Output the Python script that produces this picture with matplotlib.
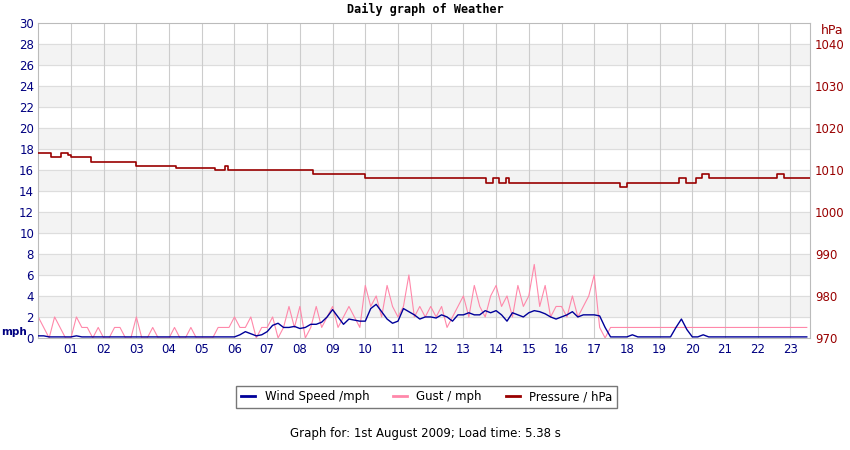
import numpy as np
import matplotlib.pyplot as plt
from matplotlib.lines import Line2D

# 10-minute samples per hour
gust = [
    [2, 1, 0, 2, 1, 0], [0, 2, 1, 1, 0, 1], [0, 0, 1, 1, 0, 0], [2, 0, 0, 1, 0, 0],
    [0, 1, 0, 0, 1, 0], [0, 0, 0, 1, 1, 1], [2, 1, 1, 2, 0, 1], [1, 2, 0, 1, 3, 1],
    [3, 0, 1, 3, 1, 2], [3, 1, 2, 3, 2, 1], [5, 3, 4, 2, 5, 3], [2, 3, 6, 2, 3, 2],
    [3, 2, 3, 1, 2, 3], [4, 2, 5, 3, 2, 4], [5, 3, 4, 2, 5, 3], [4, 7, 3, 5, 2, 3],
    [3, 2, 4, 2, 3, 4], [6, 1, 0, 1, 1, 1], [1, 1, 1, 1, 1, 1], [1, 1, 1, 1, 1, 1],
    [1, 1, 1, 1, 1, 1], [1, 1, 1, 1, 1, 1], [1, 1, 1, 1, 1, 1], [1, 1, 1, 1],
]
wind = [
    [0.2, 0.2, 0.1, 0.1, 0.1, 0.1], [0.1, 0.2, 0.1, 0.1, 0.1, 0.1], [0.1] * 6, [0.1] * 6,
    [0.1] * 6, [0.1] * 6, [0.1, 0.3, 0.6, 0.4, 0.2, 0.3], [0.6, 1.2, 1.4, 1.0, 1.0, 1.1],
    [0.9, 1.0, 1.3, 1.3, 1.5, 2.0], [2.7, 2.0, 1.3, 1.8, 1.7, 1.6], [1.6, 2.8, 3.2, 2.5, 1.8, 1.4],
    [1.6, 2.8, 2.5, 2.2, 1.8, 2.0], [2.0, 1.9, 2.2, 2.0, 1.6, 2.2], [2.2, 2.4, 2.2, 2.2, 2.6, 2.4],
    [2.6, 2.2, 1.6, 2.4, 2.2, 2.0], [2.4, 2.6, 2.5, 2.3, 2.0, 1.8], [2.0, 2.2, 2.5, 2.0, 2.2, 2.2],
    [2.2, 2.1, 1.0, 0.1, 0.1, 0.1], [0.1, 0.3, 0.1, 0.1, 0.1, 0.1], [0.1, 0.1, 0.1, 1.0, 1.8, 0.8],
    [0.1, 0.1, 0.3, 0.1, 0.1, 0.1], [0.1] * 6, [0.1] * 6, [0.1] * 4,
]
# pressure steps: (hour, hPa)
p_hours = [0, 0.4, 0.7, 0.9, 1.0, 1.6, 3.0, 4.2, 5.4, 5.7, 5.8, 8.4, 10.0, 12.9, 13.7, 13.9,
           14.1, 14.3, 14.4, 17.5, 17.8, 18.0, 19.4, 19.6, 19.8, 20.1, 20.3, 20.5, 22.3, 22.6, 22.8, 23.6]
p_vals = [1014, 1013, 1014, 1013.5, 1013, 1012, 1011, 1010.5, 1010, 1011, 1010, 1009, 1008, 1008, 1007, 1008,
          1007, 1008, 1007, 1007, 1006, 1007, 1007, 1008, 1007, 1008, 1009, 1008, 1008, 1009, 1008, 1008]

g = np.concatenate(gust)
w = np.concatenate(wind)
t = np.arange(len(g)) / 6.0

fig = plt.figure(figsize=(8.5, 4.5), dpi=100)
ax = fig.add_axes([0.045, 0.249, 0.908, 0.70])
for y0 in range(2, 30, 4):
    ax.axhspan(y0, y0 + 2, color='#f3f3f3', zorder=0)
for y0 in range(2, 30, 2):
    ax.axhline(y0, color='#dddddd', lw=0.8, zorder=1)
for h in range(1, 24):
    ax.axvline(h, color='#cccccc', lw=0.8, zorder=1)

ax.plot(t, g, color='#ff88aa', lw=0.8, zorder=2)
ax.plot(t, w, color='#000099', lw=1.0, zorder=3)
ax.set_xlim(0, 23.6)
ax.set_ylim(0, 30)
ax.set_yticks(range(0, 31, 2))
ax.set_xticks(range(1, 24))
ax.set_xticklabels(['%02d' % h for h in range(1, 24)])
ax.tick_params(axis='y', colors='#000080', labelsize=8.5, length=0, pad=3)
ax.tick_params(axis='x', colors='#000080', labelsize=8.5, length=0)
for s in ax.spines.values():
    s.set_color('#bbbbbb')

ax2 = ax.twinx()
ax2.step(p_hours, p_vals, where='post', color='#990000', lw=1.2)
ax2.set_ylim(970, 1045)
ax2.set_yticks(range(970, 1041, 10))
ax2.tick_params(axis='y', colors='#990000', labelsize=8.5, length=0)
for s in ax2.spines.values():
    s.set_visible(False)

fig.text(0.5, 0.97, 'Daily graph of Weather', ha='center', fontsize=8.5,
         family='DejaVu Sans Mono', weight='bold')
fig.text(0.001, 0.262, 'mph', color='#000080', weight='bold', fontsize=7.5, va='center')
fig.text(0.966, 0.932, 'hPa', color='#990000', fontsize=9, va='center')

handles = [Line2D([], [], color='#000099', lw=2), Line2D([], [], color='#ff88aa', lw=2),
           Line2D([], [], color='#990000', lw=2)]
fig.legend(handles, ['Wind Speed /mph', 'Gust / mph', 'Pressure / hPa'], loc='center',
           bbox_to_anchor=(0.502, 0.118), ncol=3, fontsize=8.5, fancybox=False,
           edgecolor='#555555', handlelength=1.2, columnspacing=2.0)
fig.text(0.5, 0.028, 'Graph for: 1st August 2009; Load time: 5.38 s', ha='center', fontsize=8.5)
fig.savefig('out.png', dpi=100)
